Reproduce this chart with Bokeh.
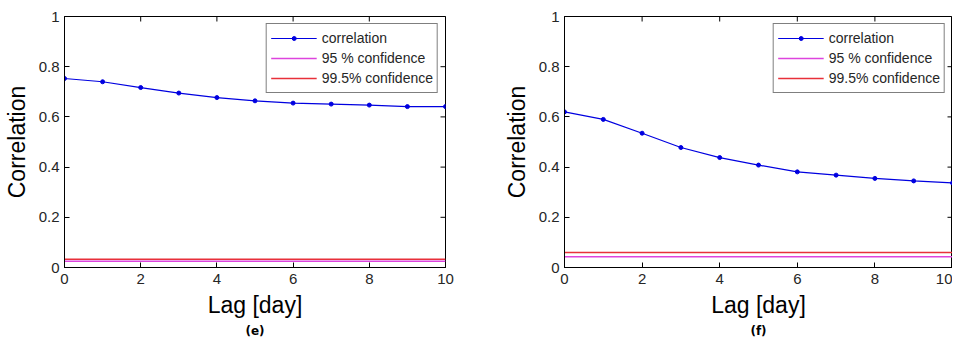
from bokeh.plotting import figure
from bokeh.layouts import row
from bokeh.models import (FixedTicker, CustomJSTickFormatter, Range1d,
                          Title, ColumnDataSource)
from bokeh.embed import file_html
from bokeh.resources import INLINE
import math

lags = [0, 1, 2, 3, 4, 5, 6, 7, 8, 9, 10]
corr_e = [0.753, 0.740, 0.717, 0.695, 0.677, 0.664, 0.655, 0.651, 0.647, 0.641, 0.641]
corr_f = [0.620, 0.590, 0.535, 0.478, 0.438, 0.408, 0.381, 0.368, 0.355, 0.345, 0.337]
conf95_e = 0.025
conf995_e = 0.033
conf95_f = 0.043
conf995_f = 0.060
x_ticks = [0, 2, 4, 6, 8, 10]
y_ticks = [0, 0.2, 0.4, 0.6, 0.8, 1]
captions = ["(e)", "(f)"]

FONT = "Liberation Sans"
BLUE = "#0000e0"
MAG = "#dd44dd"
RED = "#e8303a"
TXT = "#262626"

fmt = CustomJSTickFormatter(code="return String(Math.round(tick*10)/10)")


def make(corr, c95, c995, caption, width, bl, br):
    p = figure(width=width, height=338, output_backend="svg", toolbar_location=None,
               x_range=Range1d(0, 10), y_range=Range1d(0, 1),
               min_border_left=bl, min_border_right=br, min_border_top=16,
               min_border_bottom=60)
    p.grid.visible = False
    p.outline_line_color = "black"
    p.outline_line_width = 1
    p.outline_line_alpha = 1

    for ax in (p.xaxis[0], p.yaxis[0]):
        ax.major_tick_in = 5
        ax.major_tick_out = 0
        ax.minor_tick_line_color = None
        ax.axis_line_color = "black"
        ax.major_tick_line_color = "black"
        ax.major_label_text_font = FONT
        ax.major_label_text_font_size = "15px"
        ax.major_label_text_color = TXT
        ax.axis_label_text_font = FONT
        ax.axis_label_text_font_size = "23px"
        ax.axis_label_text_font_style = "normal"
        ax.axis_label_text_color = "black"
    p.xaxis[0].ticker = FixedTicker(ticks=x_ticks)
    p.yaxis[0].ticker = FixedTicker(ticks=y_ticks)
    p.yaxis[0].formatter = fmt
    p.xaxis[0].axis_label = "Lag [day]"
    p.yaxis[0].axis_label = "Correlation"
    p.xaxis[0].major_label_standoff = 6
    p.yaxis[0].major_label_standoff = 5
    p.xaxis[0].axis_label_standoff = 5
    p.yaxis[0].axis_label_standoff = 6

    # mirrored tick marks on the top and right frame edges (half clipped by frame)
    p.scatter(x=x_ticks, y=[1] * len(x_ticks), marker="dash", size=10,
              angle=math.pi / 2, line_color="black", line_width=1)
    p.scatter(x=[10] * len(y_ticks), y=y_ticks, marker="dash", size=10,
              line_color="black", line_width=1)

    src = ColumnDataSource(dict(x=lags, y=corr,
                                c95=[c95] * len(lags), c995=[c995] * len(lags)))
    p.line("x", "y", source=src, color=BLUE, line_width=1.2, legend_label="correlation")
    p.scatter("x", "y", source=src, color=BLUE, size=4, legend_label="correlation")
    p.line("x", "c95", source=src, color=MAG, line_width=1.5, legend_label="95 % confidence")
    p.line("x", "c995", source=src, color=RED, line_width=1.5, legend_label="99.5% confidence")

    lg = p.legend[0]
    lg.location = "top_right"
    lg.margin = 7
    lg.padding = 4
    lg.spacing = 0
    lg.label_height = 20
    lg.glyph_height = 10
    lg.glyph_width = 46
    lg.label_standoff = 5
    lg.label_text_font = FONT
    lg.label_text_font_size = "14px"
    lg.label_text_color = TXT
    lg.border_line_color = "black"
    lg.border_line_width = 1.5
    lg.background_fill_alpha = 1

    t = Title(text=caption, align="center", text_font="DejaVu Sans",
              text_font_size="12px", text_font_style="bold", text_color="black",
              standoff=2)
    p.add_layout(t, "below")
    return p


p1 = make(corr_e, conf95_e, conf995_e, captions[0], 470, 64, 25)
p2 = make(corr_f, conf95_f, conf995_f, captions[1], 482, 94, 0)
p = row(p1, p2)
open("out.html", "w").write(file_html(p, INLINE))
